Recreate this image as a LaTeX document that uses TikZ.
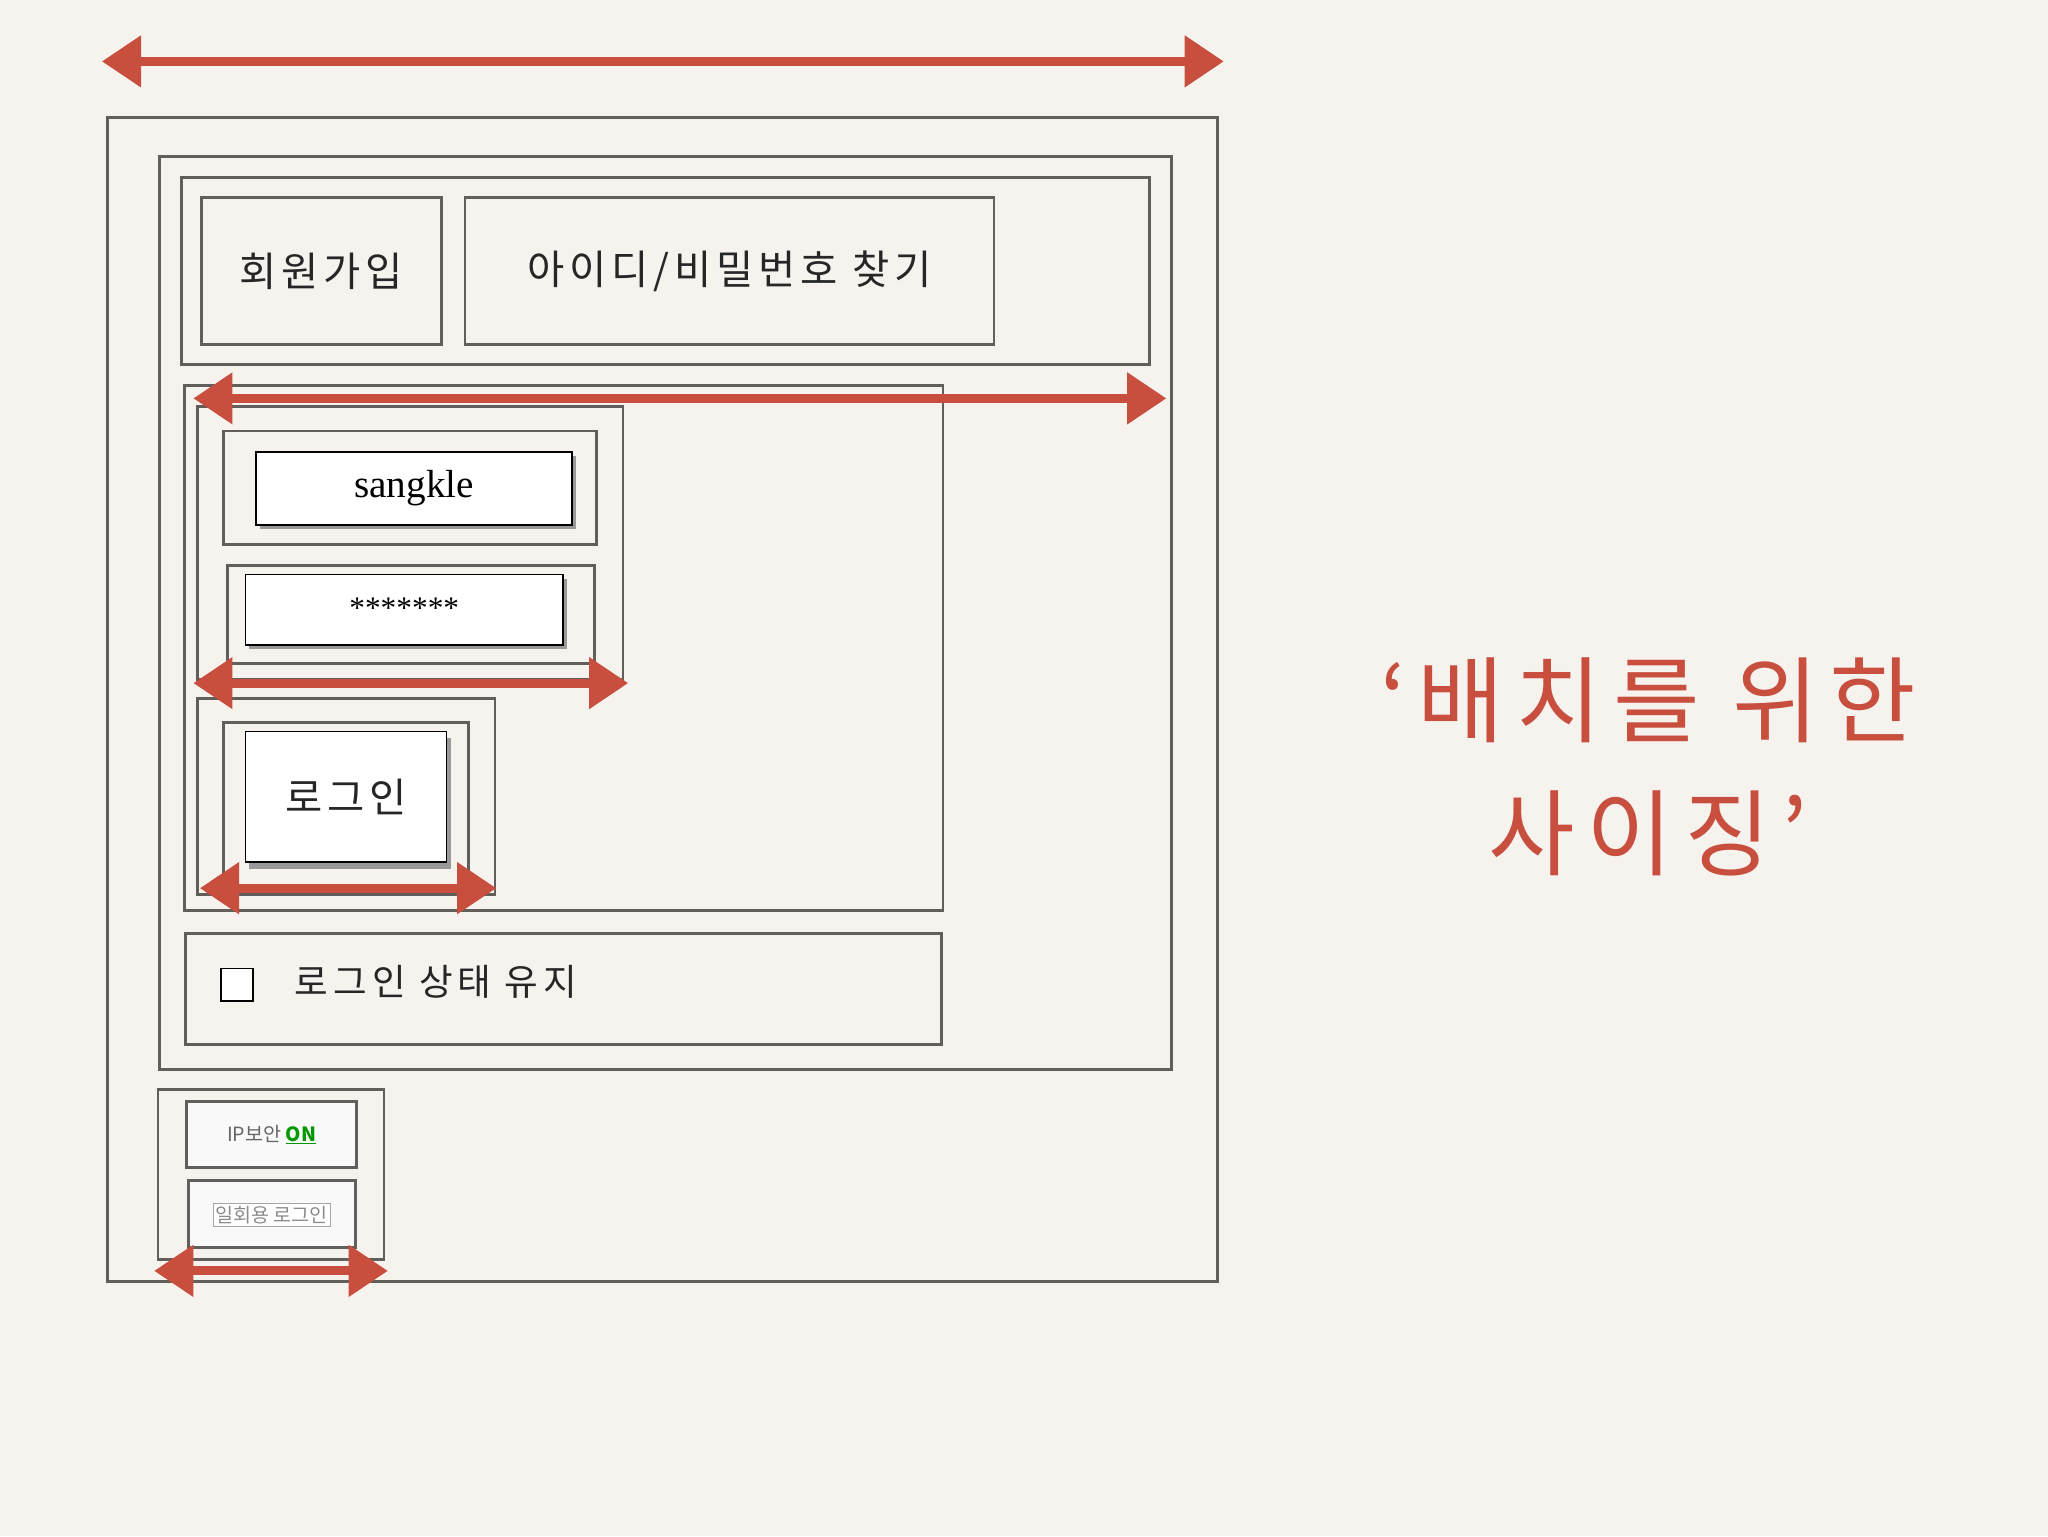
\documentclass[tikz,border=0pt]{standalone}
\usepackage{fontspec}
\setmainfont{Liberation Serif}
\newfontfamily\kr{Noto Sans CJK KR}[LetterSpace=12]
\newfontfamily\krs{Noto Sans CJK KR}
\usetikzlibrary{arrows.meta}
\definecolor{bg}{RGB}{246,243,239}
\definecolor{bx}{RGB}{98,94,92}
\definecolor{ar}{RGB}{200,78,62}
\tikzset{
 frame/.style={draw=bx,line width=2.2pt},
 field/.style={draw=black,line width=1.2pt,fill=white},
 dim/.style={draw=ar,line width=7pt,{Triangle[length=30pt,width=38pt]}-{Triangle[length=30pt,width=38pt]}},
 lbl/.style={font=\kr\fontsize{31}{34}\selectfont,text=black!85},
}
\begin{document}
\begin{tikzpicture}[x=1pt,y=-1pt]
\fill[bg] (0,0) rectangle (1568,1176);
\useasboundingbox (0,0) rectangle (1568,1176);
\draw[frame] (82,90) rectangle (932,981);
\draw[frame] (122,120) rectangle (897,819);
\draw[frame] (139,136) rectangle (880,279);
\node[frame,minimum width=184pt,minimum height=113pt,lbl] (join) at (246,207.5) {회원가입};
\node[frame,minimum width=405pt,minimum height=113pt,lbl] (find) at (558.5,207.5) {아이디/비밀번호 찾기};
\draw[frame] (141,295) rectangle (722,697);
\draw[frame] (151,311) rectangle (477,520);
\draw[frame] (171,330) rectangle (457,417);
\fill[black!40] (199,349) rectangle (441,405);
\node[field,minimum width=242pt,minimum height=56pt,font=\fontsize{30}{34}\selectfont] (id) at (317,374) {sangkle};
\draw[frame] (174,433) rectangle (455,508);
\fill[black!40] (191,443) rectangle (434,497);
\node[field,minimum width=243pt,minimum height=54pt,font=\fontsize{24}{28}\selectfont] (pw) at (309.5,467) {\raisebox{3pt}{*******}};
\draw[frame] (151,535) rectangle (379,685);
\draw[frame] (171,553) rectangle (359,680);
\fill[black!40] (191,565) rectangle (345,665);
\node[field,minimum width=154pt,minimum height=100pt,lbl] (login) at (265,610) {로그인};
\draw[frame] (142,715) rectangle (721,800);
\node[draw=black,line width=1.5pt,fill=white,minimum size=25pt,inner sep=0] (chk) at (181.5,754) {};
\node[anchor=west,font=\kr\fontsize{28}{30}\selectfont\addfontfeatures{LetterSpace=14},text=black!85] (keep) at (222,752) {로그인 상태 유지};
\draw[frame] (121,834) rectangle (294,964);
\node[frame,fill=white!95!gray,minimum width=130pt,minimum height=51pt] (ip) at (208,868.5) {\krs\fontsize{15}{17}\selectfont\textcolor{black!60}{IP보안} \textcolor{green!60!black}{\bfseries\underline{ON}}};
\node[frame,fill=white!95!gray,minimum width=128pt,minimum height=51pt] (otp) at (208,929.5) {};
\node[draw=black!35,fill=white,inner sep=2pt,font=\krs\fontsize{15}{17}\selectfont,text=black!45] (otpt) at (208,930) {일회용 로그인};
\coordinate (a1) at (78,47); \coordinate (b1) at (937,47);
\coordinate (a2) at (148,305); \coordinate (b2) at (893,305);
\coordinate (a3) at (148,523); \coordinate (b3) at (481,523);
\coordinate (a4) at (153,680); \coordinate (b4) at (380,680);
\coordinate (a5) at (118,973); \coordinate (b5) at (297,973);
\foreach \i in {1,...,5} \draw[dim] (a\i) -- (b\i);
\node[text=ar,font=\kr\fontsize{72}{102}\selectfont,align=center] (title) at (1262,587) {‘배치를 위한\\사이징’};
\end{tikzpicture}
\end{document}
